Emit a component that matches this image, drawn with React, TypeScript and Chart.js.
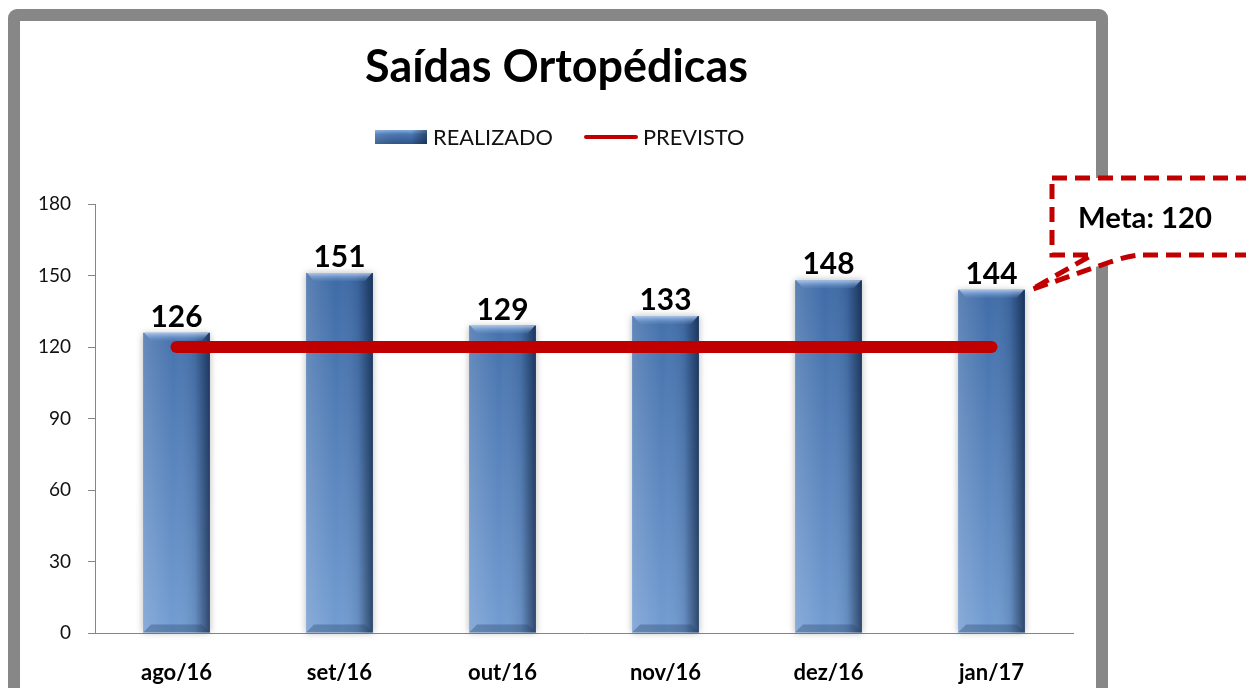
import React, { useEffect, useRef } from 'react';
import { Chart, registerables } from 'chart.js';

Chart.register(...registerables);

const categories = ['ago/16', 'set/16', 'out/16', 'nov/16', 'dez/16', 'jan/17'];
const realizado = [126, 151, 129, 133, 148, 144];
const previsto = [120, 120, 120, 120, 120, 120];
const yMin = 0;
const yMax = 180;
const yStep = 30;
const titleText = 'Saídas Ortopédicas';
const seriesNames = ['REALIZADO', 'PREVISTO'];
const calloutText = 'Meta: 120';

const FAMILY = 'Lato, "Open Sans", sans-serif';
const RED = '#C00000';
const FRAME = '#878787';
const AXIS = '#868686';

function fitSize(text: string, weight: string, targetW: number): number {
  const c = document.createElement('canvas').getContext('2d') as CanvasRenderingContext2D;
  c.font = `${weight} 100px ${FAMILY}`;
  const w = c.measureText(text).width;
  return (100 * targetW) / w;
}

export default function App() {
  const ref = useRef<HTMLCanvasElement | null>(null);

  useEffect(() => {
    const canvas = ref.current;
    if (!canvas) return;

    const titleSize = fitSize(titleText, 'bold', 383);
    const legendSize = fitSize(seriesNames[0], 'normal', 120);
    const dataSize = fitSize('126', 'bold', 52);
    const ySize = 19;
    const xSize = fitSize('ago/16', 'bold', 71);
    const calloutSize = fitSize(calloutText, 'bold', 134);

    const framePlugin = {
      id: 'framePlugin',
      beforeDraw(chart: any) {
        const ctx = chart.ctx as CanvasRenderingContext2D;
        ctx.save();
        ctx.fillStyle = '#ffffff';
        ctx.fillRect(0, 0, chart.width, chart.height);
        ctx.strokeStyle = FRAME;
        ctx.lineWidth = 12;
        ctx.beginPath();
        (ctx as any).roundRect(14, 15, 1088, 700, 3);
        ctx.stroke();
        // title
        ctx.fillStyle = '#000000';
        ctx.font = `bold ${titleSize}px ${FAMILY}`;
        ctx.textAlign = 'center';
        ctx.textBaseline = 'alphabetic';
        ctx.fillText(titleText, 556.5, 82);
        // legend
        const sg = ctx.createLinearGradient(0, 130, 0, 144);
        sg.addColorStop(0, '#86aee2');
        sg.addColorStop(0.3, '#4a78b4');
        sg.addColorStop(1, '#2d5488');
        ctx.fillStyle = sg;
        ctx.fillRect(375, 130, 52, 14);
        const sh = ctx.createLinearGradient(375, 0, 427, 0);
        sh.addColorStop(0, 'rgba(255,255,255,0.1)');
        sh.addColorStop(0.7, 'rgba(0,0,0,0)');
        sh.addColorStop(1, 'rgba(0,15,40,0.45)');
        ctx.fillStyle = sh;
        ctx.fillRect(375, 130, 52, 14);
        ctx.fillStyle = '#111111';
        ctx.font = `normal ${legendSize}px ${FAMILY}`;
        ctx.textAlign = 'left';
        ctx.fillText(seriesNames[0], 433, 145);
        ctx.strokeStyle = RED;
        ctx.lineWidth = 4;
        ctx.lineCap = 'round';
        ctx.beginPath();
        ctx.moveTo(586, 137);
        ctx.lineTo(636, 137);
        ctx.stroke();
        ctx.fillText(seriesNames[1], 643, 145);
        ctx.restore();
      },
    };

    const barFx = {
      id: 'barFx',
      beforeDatasetDraw(chart: any, args: any) {
        if (args.index !== 0) return;
        const ctx = chart.ctx as CanvasRenderingContext2D;
        const meta = chart.getDatasetMeta(0);
        ctx.save();
        meta.data.forEach((el: any) => {
          const p = el.getProps(['x', 'y', 'base', 'width'], true);
          ctx.shadowColor = 'rgba(0,0,0,0.28)';
          ctx.shadowBlur = 7;
          ctx.shadowOffsetX = 0;
          ctx.shadowOffsetY = 0;
          ctx.fillStyle = '#ffffff';
          ctx.fillRect(p.x - p.width / 2, p.y, p.width, p.base - p.y);
        });
        ctx.restore();
      },
      afterDatasetDraw(chart: any, args: any) {
        if (args.index !== 0) return;
        const ctx = chart.ctx as CanvasRenderingContext2D;
        const meta = chart.getDatasetMeta(0);
        meta.data.forEach((el: any) => {
          const p = el.getProps(['x', 'y', 'base', 'width'], true);
          const x0 = p.x - p.width / 2;
          const x1 = p.x + p.width / 2;
          const h = p.base - p.y;
          ctx.save();
          const g = ctx.createLinearGradient(x0, 0, x1, 0);
          g.addColorStop(0, 'rgba(255,255,255,0.16)');
          g.addColorStop(0.45, 'rgba(255,255,255,0)');
          g.addColorStop(0.78, 'rgba(0,15,40,0.1)');
          g.addColorStop(1, 'rgba(0,15,40,0.6)');
          ctx.fillStyle = g;
          ctx.fillRect(x0, p.y, p.width, h);
          const bv = 8;
          const tg = ctx.createLinearGradient(0, p.y, 0, p.y + bv);
          tg.addColorStop(0, 'rgba(185,212,245,0.85)');
          tg.addColorStop(1, 'rgba(110,150,210,0.15)');
          ctx.fillStyle = tg;
          ctx.beginPath();
          ctx.moveTo(x0 + 1, p.y);
          ctx.lineTo(x1 - 1, p.y);
          ctx.lineTo(x1 - bv, p.y + bv);
          ctx.lineTo(x0 + bv, p.y + bv);
          ctx.closePath();
          ctx.fill();
          ctx.fillStyle = 'rgba(40,65,105,0.35)';
          ctx.beginPath();
          ctx.moveTo(x0, p.base);
          ctx.lineTo(x1, p.base);
          ctx.lineTo(x1 - bv, p.base - bv);
          ctx.lineTo(x0 + bv, p.base - bv);
          ctx.closePath();
          ctx.fill();
          ctx.restore();
        });
      },
      afterDatasetsDraw(chart: any) {
        const ctx = chart.ctx as CanvasRenderingContext2D;
        const meta = chart.getDatasetMeta(0);
        ctx.save();
        ctx.fillStyle = '#000000';
        ctx.font = `bold ${dataSize}px ${FAMILY}`;
        ctx.textAlign = 'center';
        ctx.textBaseline = 'alphabetic';
        meta.data.forEach((el: any, i: number) => {
          const p = el.getProps(['x', 'y'], true);
          ctx.fillText(String(realizado[i]), p.x, p.y - 6);
        });
        ctx.restore();
      },
    };

    const calloutPlugin = {
      id: 'calloutPlugin',
      afterDraw(chart: any) {
        const ctx = chart.ctx as CanvasRenderingContext2D;
        const meta = chart.getDatasetMeta(0);
        const last = meta.data[meta.data.length - 1];
        const p = last.getProps(['x', 'y', 'width'], true);
        const tipX = p.x + p.width / 2 + 6;
        const tipY = p.y;
        ctx.save();
        ctx.beginPath();
        ctx.moveTo(1052, 178);
        ctx.lineTo(1262, 178);
        ctx.lineTo(1262, 255);
        ctx.lineTo(1140, 255);
        ctx.quadraticCurveTo(1128, 256, 1110, 262);
        ctx.lineTo(tipX, tipY);
        ctx.lineTo(1092, 255);
        ctx.lineTo(1052, 255);
        ctx.closePath();
        ctx.fillStyle = '#ffffff';
        ctx.fill();
        ctx.setLineDash([15, 8]);
        ctx.lineWidth = 5;
        ctx.strokeStyle = RED;
        ctx.lineJoin = 'miter';
        ctx.stroke();
        ctx.setLineDash([]);
        ctx.fillStyle = '#000000';
        ctx.font = `bold ${calloutSize}px ${FAMILY}`;
        ctx.textAlign = 'left';
        ctx.textBaseline = 'alphabetic';
        ctx.fillText(calloutText, 1078, 228);
        ctx.restore();
      },
    };

    const chart = new Chart(canvas, {
      type: 'bar',
      data: {
        labels: categories,
        datasets: [
          {
            type: 'bar',
            label: seriesNames[0],
            data: realizado,
            order: 1,
            backgroundColor: (c: any) => {
              const ca = c.chart.chartArea;
              if (!ca) return '#4a78b4';
              const g = c.chart.ctx.createLinearGradient(0, ca.top, 0, ca.bottom);
              g.addColorStop(0, '#33609d');
              g.addColorStop(1, '#739dd2');
              return g;
            },
            borderWidth: 0,
            barPercentage: 0.41,
            categoryPercentage: 1,
          },
          {
            type: 'line',
            label: seriesNames[1],
            data: previsto,
            order: 0,
            borderColor: RED,
            backgroundColor: RED,
            borderWidth: 12,
            borderCapStyle: 'round',
            pointRadius: 0,
            pointHoverRadius: 0,
            fill: false,
          },
        ],
      } as any,
      options: {
        responsive: false,
        animation: false,
        devicePixelRatio: 1,
        layout: { padding: { left: 0, top: 204, right: 173, bottom: 0 } },
        plugins: {
          legend: { display: false },
          title: { display: false },
          tooltip: { enabled: false },
        },
        scales: {
          x: {
            offset: true,
            grid: { display: false, drawTicks: false },
            border: { display: true, color: AXIS, width: 1 },
            ticks: {
              color: '#000000',
              font: { family: FAMILY, size: xSize, weight: 'bold' },
              padding: 27,
              maxRotation: 0,
            },
            afterFit: (s: any) => {
              s.height = 55;
            },
          },
          y: {
            min: yMin,
            max: yMax,
            grid: { drawOnChartArea: false, drawTicks: true, tickLength: 7, color: AXIS },
            border: { display: true, color: AXIS, width: 1 },
            ticks: {
              stepSize: yStep,
              color: '#111111',
              font: { family: FAMILY, size: ySize },
              padding: 17,
            },
            afterFit: (s: any) => {
              s.width = 95;
            },
          },
        },
      } as any,
      plugins: [framePlugin, barFx, calloutPlugin],
    });

    return () => chart.destroy();
  }, []);

  return (
    <div style={{ position: 'absolute', left: 0, top: 0, width: 1246, height: 688, background: '#fff', overflow: 'hidden' }}>
      <canvas ref={ref} width={1246} height={688} style={{ display: 'block', width: 1246, height: 688 }} />
    </div>
  );
}
